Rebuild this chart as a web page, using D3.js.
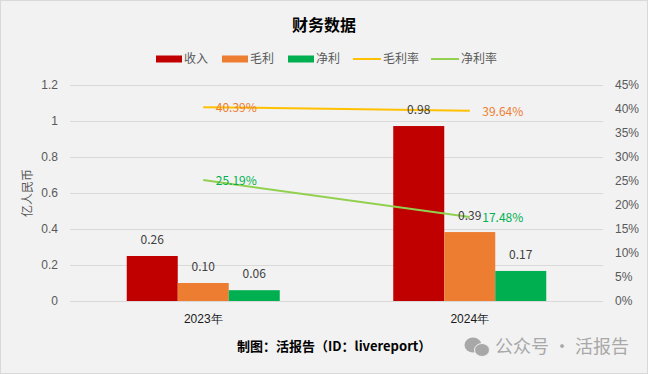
<!DOCTYPE html>
<html>
<head>
<meta charset="utf-8">
<script src="https://cdn.jsdelivr.net/npm/d3@7"></script>
<style>
  html, body { margin: 0; padding: 0; background: #f2f2f2; }
  svg { display: block; font-family: "Noto Sans CJK SC", "Noto Sans", sans-serif; }
</style>
</head>
<body>
<div id="chart"></div>
<script>
const years = ['2023年', '2024年'];
const revenue = [0.25, 0.972];
const grossProfit = [0.10, 0.383];
const netProfit = [0.06, 0.167];
const revenueLabels = ['0.26', '0.98'];
const grossLabels = ['0.10', '0.39'];
const netLabels = ['0.06', '0.17'];
const grossMargin = [40.39, 39.64];
const netMargin = [25.19, 17.48];
const leftTicks = [0, 0.2, 0.4, 0.6, 0.8, 1, 1.2];
const rightTicks = [0, 5, 10, 15, 20, 25, 30, 35, 40, 45];

const width = 648, height = 374;
const plot = { left: 70, right: 603, top: 85, bottom: 301 };

const svg = d3.select('#chart').append('svg')
  .attr('width', width)
  .attr('height', height);

svg.append('rect')
  .attr('x', 0.5).attr('y', 0.5)
  .attr('width', width - 1).attr('height', height - 1)
  .attr('fill', '#f2f2f2')
  .attr('stroke', '#d9d9d9');

const x = d3.scaleBand().domain(years).range([plot.left, plot.right]);
const inner = d3.scaleBand().domain([0, 1, 2]).range([-76.5, 76.5]);
const y = d3.scaleLinear().domain([0, 1.2]).range([plot.bottom, plot.top]);
const yPct = d3.scaleLinear().domain([0, 45]).range([plot.bottom, plot.top]);
const cx = d => x(d) + x.bandwidth() / 2;

// gridlines + left axis
const leftAxis = svg.append('g')
  .attr('transform', `translate(${plot.left},0)`)
  .call(d3.axisLeft(y).tickValues(leftTicks).tickFormat(d3.format('~g'))
    .tickSize(-(plot.right - plot.left)).tickPadding(12));
leftAxis.select('.domain').remove();
leftAxis.selectAll('line').attr('stroke', '#d9d9d9');
leftAxis.selectAll('text').attr('fill', '#595959').attr('font-size', 12).attr('font-family', null);

const rightAxis = svg.append('g')
  .attr('transform', `translate(${plot.right},0)`)
  .call(d3.axisRight(yPct).tickValues(rightTicks).tickFormat(d => d + '%')
    .tickSize(0).tickPadding(12));
rightAxis.select('.domain').remove();
rightAxis.selectAll('text').attr('fill', '#595959').attr('font-size', 12).attr('font-family', null);

const bottomAxis = svg.append('g')
  .attr('transform', `translate(0,${plot.bottom})`)
  .call(d3.axisBottom(x).tickSize(0).tickPadding(13));
bottomAxis.select('.domain').remove();
bottomAxis.selectAll('text').attr('fill', '#1a1a1a').attr('font-size', 12).attr('font-family', null);

// bars
const barSeries = [
  { values: revenue, labels: revenueLabels, color: '#c00000' },
  { values: grossProfit, labels: grossLabels, color: '#ed7d31' },
  { values: netProfit, labels: netLabels, color: '#00b050' }
];

barSeries.forEach((s, i) => {
  svg.append('g').selectAll('rect')
    .data(years)
    .join('rect')
      .attr('x', d => cx(d) + inner(i))
      .attr('width', inner.bandwidth())
      .attr('y', (d, j) => y(s.values[j]))
      .attr('height', (d, j) => plot.bottom - y(s.values[j]))
      .attr('fill', s.color);
});

// lines
const lineSeries = [
  { values: grossMargin, color: '#ffc000', labelColor: '#ed7d31' },
  { values: netMargin, color: '#92d050', labelColor: '#00b050' }
];
const line = d3.line().x(d => cx(d.year)).y(d => yPct(d.value));

lineSeries.forEach(s => {
  svg.append('path')
    .datum(years.map((year, j) => ({ year, value: s.values[j] })))
    .attr('d', line)
    .attr('fill', 'none')
    .attr('stroke', s.color)
    .attr('stroke-width', 2);
});

// bar value labels
barSeries.forEach((s, i) => {
  svg.append('g').selectAll('text')
    .data(years)
    .join('text')
      .attr('x', d => cx(d) + inner(i) + inner.bandwidth() / 2)
      .attr('y', (d, j) => y(s.values[j]) - 16)
      .attr('dy', '0.35em')
      .attr('text-anchor', 'middle')
      .attr('font-size', 12)
      .attr('fill', '#404040')
      .text((d, j) => s.labels[j]);
});

// margin labels
lineSeries.forEach(s => {
  svg.append('g').selectAll('text')
    .data(years)
    .join('text')
      .attr('x', d => cx(d) + 33)
      .attr('y', (d, j) => yPct(s.values[j]) + 1)
      .attr('dy', '0.35em')
      .attr('text-anchor', 'middle')
      .attr('font-size', 12)
      .attr('fill', s.labelColor)
      .text((d, j) => s.values[j].toFixed(2) + '%');
});

// title
svg.append('text')
  .attr('x', 324).attr('y', 25).attr('dy', '0.35em')
  .attr('text-anchor', 'middle')
  .attr('font-size', 16).attr('font-weight', 700)
  .attr('fill', '#000')
  .text('财务数据');

// y axis title
svg.append('text')
  .attr('transform', 'translate(28,193) rotate(-90)')
  .attr('dy', '0.35em')
  .attr('text-anchor', 'middle')
  .attr('font-size', 12)
  .attr('fill', '#595959')
  .text('亿人民币');

// legend
const legendItems = [
  { name: '收入', color: '#c00000', type: 'bar', at: 156 },
  { name: '毛利', color: '#ed7d31', type: 'bar', at: 222 },
  { name: '净利', color: '#00b050', type: 'bar', at: 288 },
  { name: '毛利率', color: '#ffc000', type: 'line', at: 353 },
  { name: '净利率', color: '#92d050', type: 'line', at: 431 }
];
const legend = svg.append('g').selectAll('g')
  .data(legendItems)
  .join('g')
    .attr('transform', d => `translate(${d.at},59)`);
legend.append('rect')
  .attr('y', d => d.type === 'bar' ? -3.5 : -1)
  .attr('width', d => d.type === 'bar' ? 26 : 28)
  .attr('height', d => d.type === 'bar' ? 7 : 2)
  .attr('fill', d => d.color);
legend.append('text')
  .attr('x', d => d.type === 'bar' ? 28 : 30)
  .attr('dy', '0.35em')
  .attr('font-size', 12)
  .attr('fill', '#595959')
  .text(d => d.name);

// source
svg.append('text')
  .attr('x', 237).attr('y', 346).attr('dy', '0.35em')
  .attr('font-size', 13).attr('font-weight', 700)
  .attr('fill', '#000')
  .text('制图：活报告（ID：livereport）');

// watermark
const mark = svg.append('g').attr('fill', '#a8a8a8');
mark.append('ellipse').attr('cx', 473).attr('cy', 345).attr('rx', 8.5).attr('ry', 7.5);
mark.append('ellipse').attr('cx', 482).attr('cy', 350).attr('rx', 7.5).attr('ry', 6.5)
  .attr('stroke', '#f2f2f2').attr('stroke-width', 1);
svg.append('text')
  .attr('x', 495).attr('y', 347).attr('dy', '0.35em')
  .attr('font-size', 18)
  .attr('fill', '#a8a8a8')
  .text('公众号 · 活报告');
</script>
</body>
</html>
